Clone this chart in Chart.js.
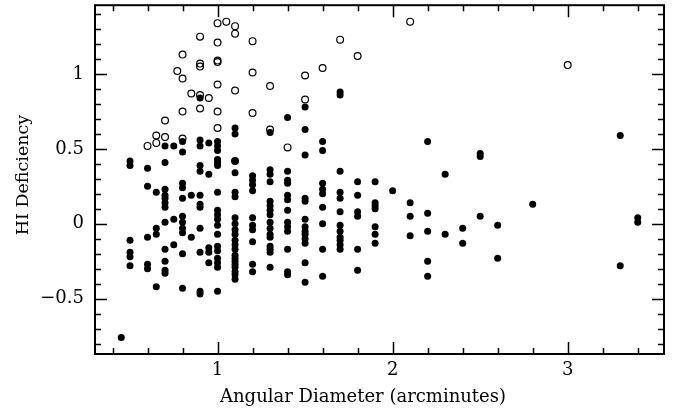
<!DOCTYPE html>
<html lang="en">
<head>
<meta charset="UTF-8">
<title>HI Deficiency vs Angular Diameter</title>
<script src="https://cdn.jsdelivr.net/npm/chart.js"></script>
<style>
  html, body { margin: 0; padding: 0; background: #fff; }
</style>
</head>
<body>
<canvas id="defChart" width="688" height="410"></canvas>
<script>
// filled points, one list of deficiencies per diameter column
const filledDiam = [0.45, 0.5, 0.6, 0.65, 0.7, 0.75, 0.8, 0.85, 0.9, 0.95, 1.0, 1.1, 1.2, 1.3, 1.4,
                    1.5, 1.6, 1.7, 1.8, 1.9, 2.0, 2.1, 2.2, 2.3, 2.4, 2.5, 2.6, 2.8, 3.3, 3.4];
const filledDef = [
  [-0.76],
  [0.42, 0.39, -0.11, -0.19, -0.22, -0.28],
  [0.37, 0.25, -0.09, -0.27, -0.30],
  [0.21, -0.03, -0.07, -0.42],
  [0.52, 0.41, 0.23, 0.19, 0.17, 0.14, 0.11, 0.01, -0.17, -0.25, -0.31, -0.33],
  [0.52, 0.03, -0.14],
  [0.55, 0.48, 0.27, 0.24, 0.17, 0.05, 0.01, -0.03, -0.06, -0.20, -0.43],
  [0.19, -0.09],
  [0.84, 0.56, 0.52, 0.39, 0.35, 0.19, 0.13, 0.11, -0.03, -0.19, -0.45, -0.47],
  [0.54, 0.33, -0.16, -0.19, -0.26],
  [0.55, 0.52, 0.49, 0.43, 0.41, 0.39, 0.21, 0.09, 0.06, 0.03, -0.01, -0.07, -0.15, -0.18, -0.23, -0.26, -0.29, -0.45],
  [0.64, 0.60, 0.42, 0.34, 0.21, 0.18, 0.04, 0.00, -0.04, -0.07, -0.11, -0.14, -0.17, -0.21, -0.23, -0.25, -0.27, -0.29, -0.32, -0.34, -0.37],
  [0.32, 0.29, 0.26, 0.22, 0.04, -0.01, -0.04, -0.12, -0.27, -0.32],
  [0.61, 0.36, 0.33, 0.28, 0.15, 0.12, 0.09, 0.06, 0.01, -0.03, -0.07, -0.09, -0.15, -0.17, -0.19, -0.29],
  [0.71, 0.35, 0.29, 0.27, 0.19, 0.16, 0.09, 0.01, -0.02, -0.05, -0.17, -0.32, -0.34],
  [0.78, 0.63, 0.46, 0.17, 0.15, 0.03, -0.02, -0.05, -0.07, -0.10, -0.13, -0.26, -0.39],
  [0.55, 0.49, 0.27, 0.23, 0.20, 0.11, 0.00, -0.17, -0.35],
  [0.88, 0.86, 0.35, 0.21, 0.17, 0.08, -0.01, -0.05, -0.09, -0.11, -0.14, -0.17],
  [0.28, 0.19, 0.08, 0.05, -0.17, -0.31],
  [0.28, 0.14, 0.12, 0.10, -0.02, -0.07, -0.13],
  [0.22],
  [0.14, 0.05, -0.08],
  [0.55, 0.07, -0.05, -0.25, -0.35],
  [0.33, -0.07],
  [-0.03, -0.13],
  [0.47, 0.45, 0.05],
  [-0.01, -0.23],
  [0.13],
  [0.59, -0.28],
  [0.04, 0.01]
];

// open circles
const openDiam = [0.6, 0.65, 0.7, 0.77, 0.8, 0.85, 0.9, 0.95, 1.0, 1.05, 1.1, 1.2, 1.3, 1.4, 1.5, 1.6, 1.7, 1.8, 2.1, 3.0];
const openDef = [
  [0.52],
  [0.59, 0.54],
  [0.69, 0.58],
  [1.02],
  [1.13, 0.97, 0.75, 0.57],
  [0.87],
  [1.25, 1.07, 1.05, 0.86, 0.77],
  [0.84],
  [1.34, 1.21, 1.09, 1.08, 0.93, 0.75, 0.64],
  [1.35],
  [1.32, 1.27, 0.89, 0.42],
  [1.22, 1.01, 0.74],
  [0.92, 0.63],
  [0.51],
  [0.99, 0.83],
  [1.04],
  [1.23],
  [1.12],
  [1.35],
  [1.06]
];

// axis ticks
const xLabels = [1, 2, 3];
const xMinor = [0.4, 0.6, 0.8, 1.2, 1.4, 1.6, 1.8, 2.2, 2.4, 2.6, 2.8, 3.2, 3.4];
const yLabels = [-0.5, 0, 0.5, 1];
const yMinor = [-0.8, -0.7, -0.6, -0.4, -0.3, -0.2, -0.1, 0.1, 0.2, 0.3, 0.4, 0.6, 0.7, 0.8, 0.9, 1.1, 1.2, 1.3, 1.4];

function toPoints(xs, ys) {
  const pts = [];
  xs.forEach((x, i) => ys[i].forEach(y => pts.push({ x: x, y: y })));
  return pts;
}

const FONT = 'DejaVu Serif';

// box frame, inward ticks, axis titles
const framePlugin = {
  id: 'frame',
  afterDraw(chart) {
    const ctx = chart.ctx;
    const a = chart.chartArea;
    const sx = chart.scales.x, sy = chart.scales.y;
    ctx.save();
    ctx.strokeStyle = '#000';
    ctx.lineWidth = 1.5;
    ctx.beginPath();
    xLabels.concat(xMinor).forEach(v => {
      const len = xLabels.includes(v) ? 12 : 6;
      const px = Math.round(sx.getPixelForValue(v)) + 0.5;
      ctx.moveTo(px, a.bottom); ctx.lineTo(px, a.bottom - len);
      ctx.moveTo(px, a.top); ctx.lineTo(px, a.top + len);
    });
    yLabels.concat(yMinor).forEach(v => {
      const len = yLabels.includes(v) ? 12 : 6;
      const py = Math.round(sy.getPixelForValue(v)) + 0.5;
      ctx.moveTo(a.left, py); ctx.lineTo(a.left + len, py);
      ctx.moveTo(a.right, py); ctx.lineTo(a.right - len, py);
    });
    ctx.stroke();
    ctx.lineWidth = 2;
    ctx.strokeRect(a.left, a.top, a.right - a.left, a.bottom - a.top);

    ctx.fillStyle = '#000';
    ctx.textAlign = 'center';
    ctx.textBaseline = 'middle';
    ctx.font = '18px "' + FONT + '"';
    ctx.fillText('Angular Diameter (arcminutes)', 363, 397);
    ctx.font = '17.5px "' + FONT + '"';
    ctx.translate(23, 175);
    ctx.rotate(-Math.PI / 2);
    ctx.fillText('HI Deficiency', 0, 0);
    ctx.restore();
  }
};

// keep label overflow from pushing the plot box around
function fixPadding(s) {
  s.paddingTop = 0; s.paddingBottom = 0; s.paddingLeft = 0; s.paddingRight = 0;
}

new Chart(document.getElementById('defChart'), {
  type: 'scatter',
  data: {
    datasets: [
      {
        label: 'open',
        data: toPoints(openDiam, openDef),
        pointStyle: 'circle',
        pointRadius: 3.4,
        borderWidth: 1.2,
        borderColor: '#000',
        backgroundColor: 'rgba(255,255,255,0)',
        order: 1
      },
      {
        label: 'filled',
        data: toPoints(filledDiam, filledDef),
        pointStyle: 'circle',
        pointRadius: 3.5,
        borderWidth: 0,
        backgroundColor: '#000',
        order: 2
      }
    ]
  },
  options: {
    responsive: false,
    animation: false,
    layout: { padding: { left: 0, right: 24, top: 5, bottom: 0 } },
    plugins: { legend: { display: false }, tooltip: { enabled: false } },
    scales: {
      x: {
        type: 'linear',
        min: 0.3,
        max: 3.55,
        grid: { display: false, drawTicks: false },
        border: { display: false },
        afterBuildTicks: s => { s.ticks = xLabels.map(v => ({ value: v })); },
        afterFit: s => { s.height = 56; fixPadding(s); },
        ticks: {
          color: '#000',
          padding: 6,
          maxRotation: 0,
          font: { family: FONT, size: 18 },
          callback: v => String(v)
        }
      },
      y: {
        type: 'linear',
        min: -0.87,
        max: 1.46,
        grid: { display: false, drawTicks: false },
        border: { display: false },
        afterBuildTicks: s => { s.ticks = yLabels.map(v => ({ value: v })); },
        afterFit: s => { s.width = 95; fixPadding(s); },
        ticks: {
          color: '#000',
          padding: 11,
          font: { family: FONT, size: 18 },
          callback: v => v < 0 ? '\u2212' + Math.abs(v) : String(v)
        }
      }
    }
  },
  plugins: [framePlugin]
});
</script>
</body>
</html>
